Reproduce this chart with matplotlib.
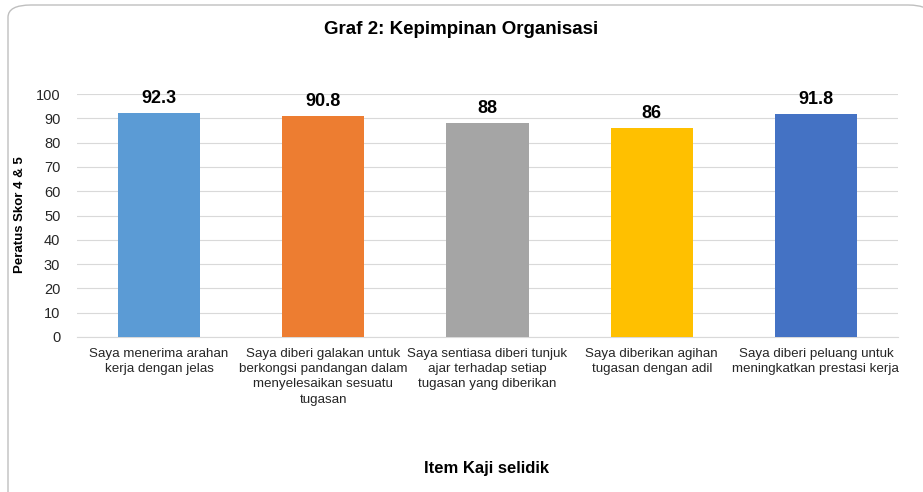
import matplotlib
matplotlib.use("Agg")
import matplotlib.pyplot as plt
from matplotlib.patches import FancyBboxPatch
from matplotlib import font_manager

names = {f.name for f in font_manager.fontManager.ttflist}
FONT = "Liberation Sans Narrow" if "Liberation Sans Narrow" in names else "Liberation Sans"
plt.rcParams["font.family"] = [FONT, "DejaVu Sans"]

items = [
    "Saya menerima arahan\nkerja dengan jelas",
    "Saya diberi galakan untuk\nberkongsi pandangan dalam\nmenyelesaikan sesuatu\ntugasan",
    "Saya sentiasa diberi tunjuk\najar terhadap setiap\ntugasan yang diberikan",
    "Saya diberikan agihan\ntugasan dengan adil",
    "Saya diberi peluang untuk\nmeningkatkan prestasi kerja",
]
scores = [92.3, 90.8, 88, 86, 91.8]
score_labels = ["92.3", "90.8", "88", "86", "91.8"]
colors = ["#5B9BD5", "#ED7D31", "#A5A5A5", "#FFC000", "#4472C4"]
yticks = list(range(0, 101, 10))

fig = plt.figure(figsize=(9.23, 4.92), dpi=100)
border = FancyBboxPatch((8 / 923, -0.05), 1.0, 1.0 - 5 / 492 + 0.05,
                        boxstyle="round,pad=0,rounding_size=0.025",
                        transform=fig.transFigure, facecolor="white",
                        edgecolor="#BFBFBF", linewidth=1.0, zorder=-1)
fig.patches.append(border)

ax = fig.add_axes([77 / 923, 1 - 337 / 492, (898 - 77) / 923, (337 - 94) / 492])
ax.set_zorder(2)
ax.set_facecolor("none")
x = range(len(items))
bars = ax.bar(x, scores, width=0.5, color=colors, zorder=3)
for i, (v, lab) in enumerate(zip(scores, score_labels)):
    ax.text(i, v + 2.5, lab, ha="center", va="bottom", fontsize=13,
            fontweight="bold", color="#000000")

ax.set_xlim(-0.5, len(items) - 0.5)
ax.set_ylim(0, 100)
ax.set_yticks(yticks)
ax.set_xticks(list(x))
ax.set_xticklabels(items, fontsize=9.6, color="#262626", linespacing=1.35)
ax.tick_params(axis="y", labelsize=10.5, colors="#262626", length=0, pad=12)
ax.tick_params(axis="x", length=0, pad=8)
ax.grid(axis="y", color="#D9D9D9", linewidth=0.8, zorder=0)
for s in ["top", "right", "left"]:
    ax.spines[s].set_visible(False)
ax.spines["bottom"].set_color("#D9D9D9")

fig.text(0.5, 1 - 30 / 492, "Graf 2: Kepimpinan Organisasi", ha="center",
         va="center", fontsize=13.5, fontweight="bold")
fig.text(20 / 923, 1 - 215 / 492, "Peratus Skor 4 & 5", rotation=90,
         ha="center", va="center", fontsize=9.5, fontweight="bold")
fig.text(487 / 923, 1 - 469 / 492, "Item Kaji selidik", ha="center",
         va="center", fontsize=12, fontweight="bold")

fig.savefig("out.png", dpi=100)
